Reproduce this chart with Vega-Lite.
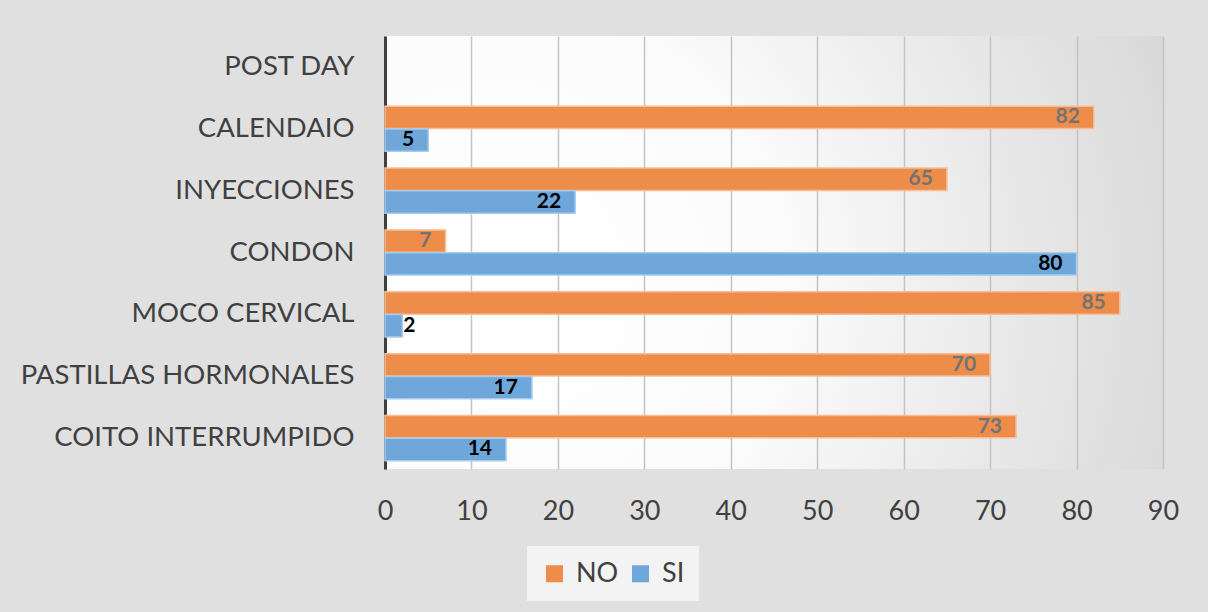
{
  "$schema": "https://vega.github.io/schema/vega-lite/v6.json",
  "width": 778,
  "height": 433,
  "autosize": "none",
  "padding": {"left": 385, "top": 36, "right": 45, "bottom": 143},
  "background": "#e0e0e0",
  "data": {
    "values": [
      {"metodo": "CALENDAIO\u00a0", "respuesta": "NO", "valor": 82},
      {"metodo": "CALENDAIO\u00a0", "respuesta": "SI", "valor": 5},
      {"metodo": "INYECCIONES", "respuesta": "NO", "valor": 65},
      {"metodo": "INYECCIONES", "respuesta": "SI", "valor": 22},
      {"metodo": "CONDON", "respuesta": "NO", "valor": 7},
      {"metodo": "CONDON", "respuesta": "SI", "valor": 80},
      {"metodo": "MOCO CERVICAL", "respuesta": "NO", "valor": 85},
      {"metodo": "MOCO CERVICAL", "respuesta": "SI", "valor": 2},
      {"metodo": "PASTILLAS HORMONALES", "respuesta": "NO", "valor": 70},
      {"metodo": "PASTILLAS HORMONALES", "respuesta": "SI", "valor": 17},
      {"metodo": "COITO INTERRUMPIDO", "respuesta": "NO", "valor": 73},
      {"metodo": "COITO INTERRUMPIDO", "respuesta": "SI", "valor": 14}
    ]
  },
  "encoding": {
    "y": {
      "field": "metodo",
      "type": "nominal",
      "title": null,
      "scale": {
        "domain": ["POST DAY", "CALENDAIO\u00a0", "INYECCIONES", "CONDON", "MOCO CERVICAL", "PASTILLAS HORMONALES", "COITO INTERRUMPIDO"],
        "paddingInner": 0.27,
        "paddingOuter": 0.135
      },
      "axis": {
        "domain": true,
        "domainColor": "#404040",
        "domainWidth": 3,
        "ticks": false,
        "tickSize": 0,
        "grid": false,
        "labelFont": "Lato",
        "labelFontSize": 27.5,
        "labelColor": "#404040",
        "labelPadding": 31,
        "labelLimit": 400
      }
    },
    "x": {
      "field": "valor",
      "type": "quantitative",
      "title": null,
      "scale": {"domain": [0, 90], "nice": false},
      "axis": {
        "values": [0, 10, 20, 30, 40, 50, 60, 70, 80, 90],
        "domain": false,
        "ticks": false,
        "tickSize": 0,
        "grid": true,
        "gridColor": "#c4c4c4",
        "gridWidth": 1.5,
        "labelFlush": false,
        "labelFont": "Lato",
        "labelFontSize": 27,
        "labelColor": "#404040",
        "labelPadding": 29
      }
    },
    "yOffset": {"field": "respuesta", "sort": ["NO", "SI"], "scale": {"paddingInner": 0.02}}
  },
  "layer": [
    {
      "mark": {"type": "bar", "strokeWidth": 1.5},
      "encoding": {
        "color": {
          "field": "respuesta",
          "type": "nominal",
          "scale": {"domain": ["NO", "SI"], "range": ["#EE8C4A", "#6FA7DB"]},
          "legend": {
            "title": null,
            "orient": "none",
            "direction": "horizontal",
            "legendX": 142,
            "legendY": 510,
            "fillColor": "#f3f3f3",
            "padding": 14,
            "symbolType": "square",
            "symbolSize": 289,
            "symbolStrokeWidth": 0,
            "labelFont": "Lato",
            "labelFontSize": 27,
            "labelColor": "#404040",
            "labelOffset": 8,
            "columnPadding": 8
          }
        },
        "stroke": {
          "field": "respuesta",
          "type": "nominal",
          "scale": {"domain": ["NO", "SI"], "range": ["#F6BE98", "#A8CAEB"]},
          "legend": null
        }
      }
    },
    {
      "transform": [{"filter": "datum.respuesta === 'NO'"}],
      "mark": {"type": "text", "align": "right", "baseline": "middle", "dx": -14, "font": "Lato", "fontSize": 21, "fontWeight": "bold", "color": "#737373"},
      "encoding": {"text": {"field": "valor", "type": "quantitative"}}
    },
    {
      "transform": [{"filter": "datum.respuesta === 'SI' && datum.valor >= 4"}],
      "mark": {"type": "text", "align": "right", "baseline": "middle", "dx": -14, "font": "Lato", "fontSize": 21, "fontWeight": "bold", "color": "#000000"},
      "encoding": {"text": {"field": "valor", "type": "quantitative"}}
    },
    {
      "transform": [{"filter": "datum.respuesta === 'SI' && datum.valor < 4"}],
      "mark": {"type": "text", "align": "left", "baseline": "middle", "dx": 1, "font": "Lato", "fontSize": 21, "fontWeight": "bold", "color": "#000000"},
      "encoding": {"text": {"field": "valor", "type": "quantitative"}}
    }
  ],
  "config": {
    "view": {
      "stroke": null,
      "fill": {
        "gradient": "radial",
        "x1": 0.15, "y1": 0.55, "r1": 0,
        "x2": 0.15, "y2": 0.55, "r2": 1.0,
        "stops": [
          {"offset": 0, "color": "#ffffff"},
          {"offset": 0.35, "color": "#fcfcfc"},
          {"offset": 1, "color": "#d3d3d3"}
        ]
      }
    }
  }
}
